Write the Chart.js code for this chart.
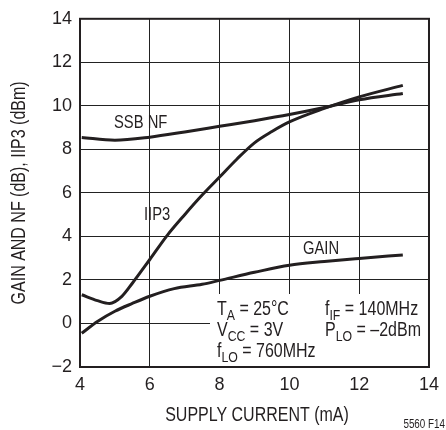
<!DOCTYPE html>
<html>
<head>
<meta charset="utf-8">
<script src="https://cdn.jsdelivr.net/npm/chart.js@4/dist/chart.umd.min.js"></script>
<style>
html,body{margin:0;padding:0;background:#fff;}
#wrap{width:446px;height:430px;position:relative;}
</style>
</head>
<body>
<div id="wrap"><canvas id="c" width="446" height="430"></canvas></div>
<script>
// ---- data ----
const nfCurrent   = [4.05, 5, 6, 7, 8, 9, 10, 11, 12, 13.25];
const nfValues    = [8.55, 8.42, 8.56, 8.8, 9.06, 9.32, 9.6, 9.92, 10.28, 10.57];

const iip3Current = [4.05, 4.5, 4.85, 5.2, 5.5, 6, 6.5, 7, 7.5, 8, 8.5, 9, 9.5, 10, 11, 12, 13.25];
const iip3Values  = [1.32, 1.05, 0.92, 1.25, 1.85, 2.94, 4.05, 5.0, 5.9, 6.73, 7.56, 8.3, 8.82, 9.26, 9.88, 10.41, 10.94];

const gainCurrent = [4.05, 4.5, 5, 5.5, 6, 6.7, 7.5, 8, 9, 10, 11, 12, 13.25];
const gainValues  = [-0.45, 0.09, 0.56, 0.92, 1.25, 1.6, 1.8, 1.98, 2.35, 2.68, 2.85, 2.99, 3.15];

const xTicks = [4, 6, 8, 10, 12, 14];
const yTicks = [-2, 0, 2, 4, 6, 8, 10, 12, 14];

const xTitle = 'SUPPLY CURRENT (mA)';
const yTitle = 'GAIN AND NF (dB), IIP3 (dBm)';
const curveLabels = ['SSB NF', 'IIP3', 'GAIN'];
const figId = '5560 F14';

function pts(xs, ys){ return xs.map((x,i)=>({x:x, y:ys[i]})); }

const INK = '#231f20';
const REG = '"Liberation Sans", Arial, sans-serif';
const SQ = 0.82; // condensed look

const lineDs = (data)=>({
  data: data, borderColor: INK, borderWidth: 3, pointRadius: 0,
  cubicInterpolationMode: 'monotone', fill: false
});

function ctext(ctx, s, x, y, size, align){
  ctx.save();
  ctx.font = size + 'px ' + REG;
  ctx.translate(x, y);
  ctx.scale(SQ, 1);
  ctx.textAlign = align || 'left';
  ctx.textBaseline = 'alphabetic';
  ctx.fillText(s, 0, 0);
  const w = ctx.measureText(s).width * SQ;
  ctx.restore();
  return w;
}

const deco = {
  id: 'deco',
  beforeDatasetsDraw(chart){
    const ctx = chart.ctx;
    ctx.save();
    ctx.fillStyle = '#fff';
    ctx.fillRect(210, 294, 220, 46);
    ctx.fillRect(210, 339, 152, 27);
    ctx.restore();
  },
  afterDatasetsDraw(chart){
    const ctx = chart.ctx, a = chart.chartArea;
    ctx.save();
    // frame
    ctx.strokeStyle = INK; ctx.lineWidth = 2;
    ctx.strokeRect(a.left, a.top, a.right - a.left, a.bottom - a.top);

    ctx.fillStyle = INK;
    // axis titles
    ctext(ctx, xTitle, 257, 421, 19.5, 'center');
    ctx.save();
    ctx.translate(25, (a.top + a.bottom) / 2);
    ctx.rotate(-Math.PI / 2);
    ctext(ctx, yTitle, 0, 0, 19.5, 'center');
    ctx.restore();

    // curve labels
    ctext(ctx, curveLabels[0], 114, 128, 18);
    ctext(ctx, curveLabels[1], 144, 220, 18);
    ctext(ctx, curveLabels[2], 303, 254, 18);

    // conditions with subscripts
    function sub(x, y, parts){
      let cx = x;
      parts.forEach(p=>{
        if (p.s) cx += ctext(ctx, p.t, cx, y + 5, 15);
        else cx += ctext(ctx, p.t, cx, y, 19.5);
      });
    }
    sub(217, 315, [{t:'T'},{t:'A',s:1},{t:' = 25°C'}]);
    sub(217, 336, [{t:'V'},{t:'CC',s:1},{t:' = 3V'}]);
    sub(217, 357, [{t:'f'},{t:'LO',s:1},{t:' = 760MHz'}]);
    sub(325, 315, [{t:'f'},{t:'IF',s:1},{t:' = 140MHz'}]);
    sub(325, 336, [{t:'P'},{t:'LO',s:1},{t:' = \u20132dBm'}]);

    // figure id
    ctext(ctx, figId, 445, 428, 12, 'right');
    ctx.restore();
  }
};

new Chart(document.getElementById('c'), {
  type: 'line',
  data: {
    datasets: [
      lineDs(pts(nfCurrent, nfValues)),
      lineDs(pts(iip3Current, iip3Values)),
      lineDs(pts(gainCurrent, gainValues))
    ]
  },
  options: {
    responsive: false,
    animation: false,
    events: [],
    layout: { padding: { top: 15, right: 14, left: 0, bottom: 0 } },
    plugins: { legend: { display: false }, tooltip: { enabled: false } },
    scales: {
      x: {
        type: 'linear', min: 4, max: 14,
        afterBuildTicks: s => { s.ticks = xTicks.map(v => ({value: v})); },
        afterFit: s => { s.height = 63; },
        grid: { color: '#222', lineWidth: 1, drawTicks: false },
        border: { display: false },
        ticks: { color: INK, padding: 7, maxRotation: 0, font: { family: REG, size: 18 },
                 callback: v => String(v) }
      },
      y: {
        type: 'linear', min: -2, max: 14,
        afterBuildTicks: s => { s.ticks = yTicks.map(v => ({value: v})); },
        afterFit: s => { s.width = 80; },
        grid: { color: '#222', lineWidth: 1, drawTicks: false },
        border: { display: false },
        ticks: { color: INK, padding: 8, font: { family: REG, size: 18 },
                 callback: v => (v < 0 ? '\u2212' + Math.abs(v) : String(v)) }
      }
    }
  },
  plugins: [deco]
});
</script>
</body>
</html>
